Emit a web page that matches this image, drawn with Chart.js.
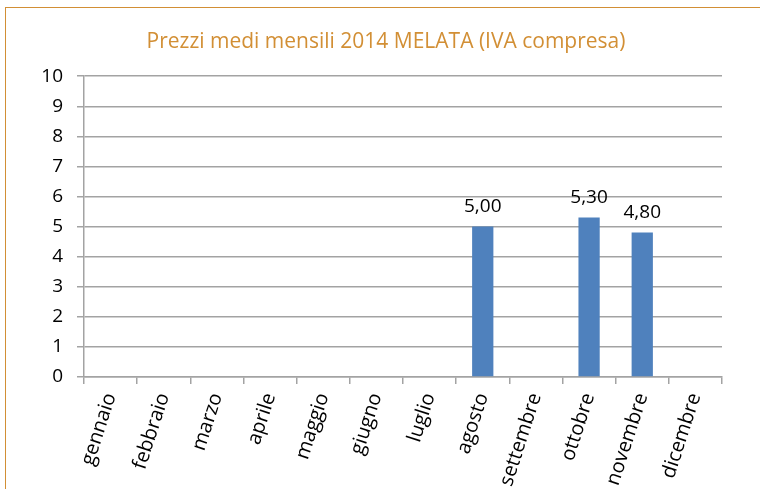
<!DOCTYPE html>
<html>
<head>
<meta charset="utf-8">
<script src="https://cdn.jsdelivr.net/npm/chart.js@4"></script>
<style>
  body { margin: 0; background: #fff; }
  #wrap { position: relative; width: 760px; height: 489px; }
  #frame { position: absolute; left: 5px; top: 7px; right: -10px; bottom: -10px; border-left: 1.5px solid #D28F35; border-top: 1.5px solid #D28F35; }
</style>
</head>
<body>
<div id="wrap">
  <div id="frame"></div>
  <canvas id="barCanvas" width="760" height="489"></canvas>
</div>
<script>
const mesi = ["gennaio", "febbraio", "marzo", "aprile", "maggio", "giugno", "luglio", "agosto", "settembre", "ottobre", "novembre", "dicembre"];
const prezzi = [null, null, null, null, null, null, null, 5.00, null, 5.30, 4.80, null];
const yTicks = [0, 1, 2, 3, 4, 5, 6, 7, 8, 9, 10];

const grigio = "#A3A3A3";
const font = "'Open Sans'";

// etichette sopra le barre (formato italiano)
const etichette = {
  id: "etichette",
  afterDatasetsDraw(chart) {
    const ctx = chart.ctx;
    const meta = chart.getDatasetMeta(0);
    ctx.save();
    ctx.font = "19px " + font;
    ctx.fillStyle = "#000";
    ctx.textAlign = "center";
    ctx.textBaseline = "alphabetic";
    meta.data.forEach((bar, i) => {
      const v = prezzi[i];
      if (v === null) return;
      ctx.fillText(v.toFixed(2).replace(".", ","), bar.x, bar.y - 15);
    });
    ctx.restore();
  }
};

const barCanvas = document.getElementById("barCanvas");
const barChart = new Chart(barCanvas, {
  type: "bar",
  data: {
    labels: mesi,
    datasets: [{
      data: prezzi,
      backgroundColor: "#4F81BD",
      categoryPercentage: 1,
      barPercentage: 0.4
    }]
  },
  options: {
    responsive: false,
    animation: false,
    layout: { padding: { left: 12, right: 0, top: 0, bottom: 0 } },
    plugins: {
      legend: { display: false },
      tooltip: { enabled: false },
      title: {
        display: true,
        text: "Prezzi medi mensili 2014 MELATA (IVA compresa)",
        color: "#D28F35",
        font: { family: font, size: 21, weight: "normal", lineHeight: 1.2 },
        padding: { top: 29, bottom: 22 }
      }
    },
    scales: {
      y: {
        min: 0,
        max: 10,
        afterBuildTicks: s => { s.ticks = yTicks.map(v => ({ value: v })); },
        afterFit: s => { s.width = 72; },
        grid: { color: grigio, lineWidth: 1.5, tickLength: 7 },
        border: { color: grigio, width: 1.5 },
        ticks: { color: "#000", padding: 14, font: { family: font, size: 19 } }
      },
      // spazio vuoto a destra, così il titolo resta centrato come nell'originale
      destra: {
        position: "right",
        afterFit: s => { s.width = 38; },
        grid: { display: false },
        border: { display: false },
        ticks: { display: false }
      },
      x: {
        afterFit: s => { s.height = 112; },
        grid: { drawOnChartArea: false, color: grigio, lineWidth: 1.5, tickLength: 7 },
        border: { color: grigio, width: 1.5 },
        ticks: { color: "#000", minRotation: 72, maxRotation: 72, padding: 6, font: { family: font, size: 20 } }
      }
    }
  },
  plugins: [etichette]
});
</script>
</body>
</html>
